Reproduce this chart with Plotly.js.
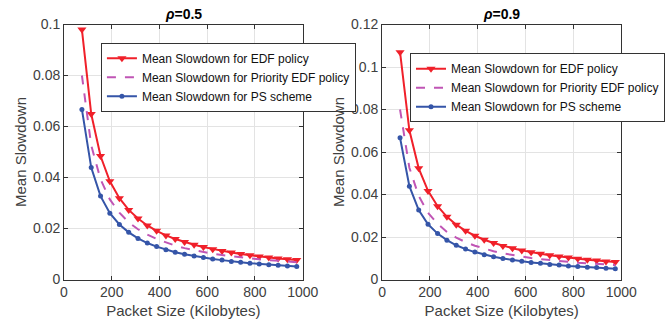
<!DOCTYPE html>
<html><head><meta charset="utf-8">
<script src="https://cdn.plot.ly/plotly-3.0.1.min.js"></script>
<style>html,body{margin:0;padding:0;background:#fff;}#chart{width:665px;height:324px;}</style>
</head><body><div id="chart"></div>
<script>
const packetSize = [75,114,153,192,232,271,310,349,388,427,466,505,545,584,623,662,701,740,779,818,858,897,936,975];

const edfRho05 = [0.0980,0.0649,0.0484,0.0385,0.0319,0.0273,0.0239,0.0212,0.0191,0.0173,0.0159,0.0147,0.0136,0.0127,0.0119,0.0112,0.0106,0.0100,0.0095,0.0090,0.0086,0.0082,0.0079,0.0076];
const prioRho05 = [0.0800,0.0526,0.0393,0.0314,0.0262,0.0224,0.0197,0.0176,0.0159,0.0145,0.0133,0.0123,0.0115,0.0108,0.0101,0.0096,0.0091,0.0087,0.0083,0.0079,0.0076,0.0073,0.0070,0.0068];
const psRho05 = [0.0667,0.0439,0.0327,0.0260,0.0216,0.0185,0.0161,0.0143,0.0129,0.0117,0.0107,0.0099,0.0092,0.0086,0.0080,0.0076,0.0071,0.0068,0.0064,0.0061,0.0058,0.0056,0.0053,0.0051];

const edfRho09 = [0.1070,0.0702,0.0523,0.0417,0.0345,0.0295,0.0258,0.0229,0.0206,0.0187,0.0172,0.0158,0.0147,0.0137,0.0128,0.0121,0.0114,0.0108,0.0103,0.0098,0.0093,0.0089,0.0085,0.0082];
const prioRho09 = [0.0800,0.0526,0.0393,0.0314,0.0262,0.0224,0.0197,0.0176,0.0159,0.0145,0.0133,0.0123,0.0115,0.0108,0.0101,0.0096,0.0091,0.0087,0.0083,0.0079,0.0076,0.0073,0.0070,0.0068];
const psRho09 = [0.0667,0.0439,0.0327,0.0260,0.0216,0.0185,0.0161,0.0143,0.0129,0.0117,0.0107,0.0099,0.0092,0.0086,0.0080,0.0076,0.0071,0.0068,0.0064,0.0061,0.0058,0.0056,0.0053,0.0051];

const seriesNames = ["Mean Slowdown for EDF policy","Mean Slowdown for Priority EDF policy","Mean Slowdown for PS scheme"];
const xTicks = [0,200,400,600,800,1000];
const yTicksLeft = [0,0.02,0.04,0.06,0.08,0.1];
const yTickTextLeft = ["0","0.02","0.04","0.06","0.08","0.1"];
const yTicksRight = [0,0.02,0.04,0.06,0.08,0.1,0.12];
const yTickTextRight = ["0","0.02","0.04","0.06","0.08","0.1","0.12"];
const titles = ["<i>ρ</i>=0.5","<i>ρ</i>=0.9"];

const RED = "#f0202a", MAG = "#c055b5", BLUE = "#3555a8";
const FONT = "Liberation Sans, Arial, sans-serif";
const TXT = "#404040";

function mk(x, y, name, which, xa, ya, legend) {
  const base = {x:x, y:y, name:name, xaxis:xa, yaxis:ya, legend:legend, type:"scatter"};
  if (which === 0) return Object.assign(base, {mode:"lines+markers", line:{color:RED,width:2}, marker:{symbol:"triangle-down",size:8,color:RED}});
  if (which === 1) return Object.assign(base, {mode:"lines", line:{color:MAG,width:2,dash:"dash"}});
  return Object.assign(base, {mode:"lines+markers", line:{color:BLUE,width:2}, marker:{symbol:"circle",size:5,color:BLUE}});
}

const traces = [
  mk(packetSize, edfRho05, seriesNames[0], 0, "x", "y", "legend"),
  mk(packetSize, prioRho05, seriesNames[1], 1, "x", "y", "legend"),
  mk(packetSize, psRho05, seriesNames[2], 2, "x", "y", "legend"),
  mk(packetSize, edfRho09, seriesNames[0], 0, "x2", "y2", "legend2"),
  mk(packetSize, prioRho09, seriesNames[1], 1, "x2", "y2", "legend2"),
  mk(packetSize, psRho09, seriesNames[2], 2, "x2", "y2", "legend2")
];

const axCommon = {showline:true, mirror:"ticks", linecolor:"#333", linewidth:1, ticks:"inside", ticklen:4, tickcolor:"#333",
  showgrid:true, gridcolor:"#e3e3e3", zeroline:false, tickfont:{family:FONT,size:14,color:TXT}};
const yDom = [1-279.5/324, 1-24.5/324];
const titleFont = {family:FONT,size:15,color:TXT};

const layout = {
  width:665, height:324, margin:{l:0,r:0,t:0,b:0}, paper_bgcolor:"#fff", plot_bgcolor:"#fff", showlegend:true,
  font:{family:FONT, color:TXT},
  xaxis: Object.assign({}, axCommon, {domain:[64.5/665, 305/665], range:[0,1000], tickvals:xTicks, anchor:"y",
    title:{text:"Packet Size (Kilobytes)", font:titleFont, standoff:6}}),
  yaxis: Object.assign({}, axCommon, {domain:yDom, range:[0,0.1], tickvals:yTicksLeft, ticktext:yTickTextLeft, anchor:"x",
    title:{text:"Mean Slowdown", font:titleFont, standoff:2}}),
  xaxis2: Object.assign({}, axCommon, {domain:[385/665, 626/665], range:[0,1000], tickvals:xTicks, anchor:"y2",
    title:{text:"Packet Size (Kilobytes)", font:titleFont, standoff:6}}),
  yaxis2: Object.assign({}, axCommon, {domain:yDom, range:[0,0.12], tickvals:yTicksRight, ticktext:yTickTextRight, anchor:"x2",
    title:{text:"Mean Slowdown", font:titleFont, standoff:2}}),
  legend: {x:101.7/665, y:1-42.7/324, xanchor:"left", yanchor:"top", bgcolor:"#fff", bordercolor:"#333", borderwidth:1,
    font:{family:FONT,size:12,color:"#111"}, tracegroupgap:0, itemwidth:30},
  legend2: {x:413.3/665, y:1-53.3/324, xanchor:"left", yanchor:"top", bgcolor:"#fff", bordercolor:"#333", borderwidth:1,
    font:{family:FONT,size:12,color:"#111"}, tracegroupgap:0, itemwidth:30},
  annotations: [
    {text:titles[0], x:(64.5+305)/2/665, y:1-24.5/324, xref:"paper", yref:"paper", xanchor:"center", yanchor:"bottom", showarrow:false, yshift:0,
     font:{family:FONT,size:14,color:"#000",weight:"bold"}},
    {text:titles[1], x:(385+626)/2/665, y:1-24.5/324, xref:"paper", yref:"paper", xanchor:"center", yanchor:"bottom", showarrow:false, yshift:0,
     font:{family:FONT,size:14,color:"#000",weight:"bold"}}
  ]
};

Plotly.newPlot("chart", traces, layout, {displayModeBar:false, staticPlot:true});
</script></body></html>
